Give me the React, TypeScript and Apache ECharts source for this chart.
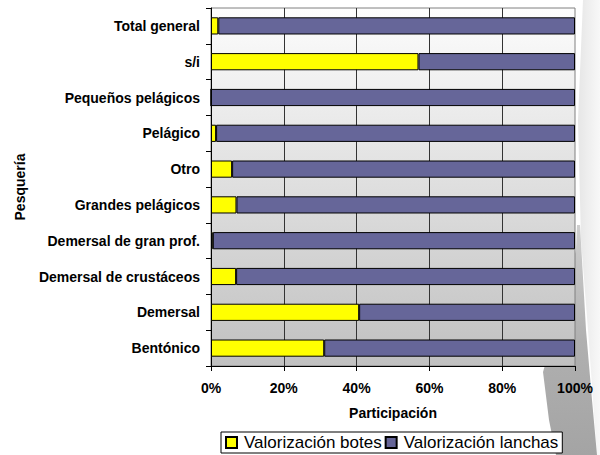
import React, { useEffect, useRef } from "react";
import * as echarts from "echarts";

const categories = [
  "Total general",
  "s/i",
  "Pequeños pelágicos",
  "Pelágico",
  "Otro",
  "Grandes pelágicos",
  "Demersal de gran prof.",
  "Demersal de crustáceos",
  "Demersal",
  "Bentónico",
];
const botes = [2.0, 57.0, 0, 1.4, 5.8, 7.0, 0.5, 6.9, 40.7, 31.1];
const lanchas = [98.0, 43.0, 100, 98.6, 94.2, 93.0, 99.5, 93.1, 59.3, 68.9];
const xTicks = [0, 20, 40, 60, 80, 100];

const FONT = "'Liberation Sans', Arial, Helvetica, sans-serif";

export default function App() {
  const ref = useRef<HTMLDivElement>(null);
  useEffect(() => {
    if (!ref.current) return;
    const chart = echarts.init(ref.current, null, { renderer: "svg" });
    chart.setOption({
      animation: false,
      backgroundColor: "#ffffff",
      textStyle: { fontFamily: FONT },
      graphic: [
        {
          type: "polygon",
          z: -10,
          shape: {
            points: [
              [583, 0],
              [600, 0],
              [600, 455],
              [597, 455],
              [588, 330],
              [581, 240],
              [578, 120],
            ],
          },
          style: {
            fill: new echarts.graphic.LinearGradient(0, 0, 1, 0, [
              { offset: 0, color: "#e6e6e6" },
              { offset: 1, color: "#f8f8f8" },
            ]),
          },
        },
        {
          type: "polygon",
          z: -9,
          shape: {
            points: [
              [577, 225],
              [580, 225],
              [586, 330],
              [592, 400],
              [597, 455],
              [556, 455],
              [549, 420],
              [543, 372],
              [558, 320],
              [576, 250],
            ],
          },
          style: {
            fill: new echarts.graphic.LinearGradient(0, 0, 0, 1, [
              { offset: 0, color: "#cfcfcf" },
              { offset: 0.5, color: "#b0b0b0" },
              { offset: 1, color: "#a4a4a4" },
            ]),
          },
        },
      ],
      grid: {
        left: 211,
        right: 25,
        top: 8,
        bottom: 89,
        show: true,
        borderColor: "#808080",
        borderWidth: 1,
        backgroundColor: new echarts.graphic.LinearGradient(0, 0, 0, 1, [
          { offset: 0, color: "#fdfdfd" },
          { offset: 1, color: "#c0c0c0" },
        ]),
      },
      legend: {
        left: 221,
        top: 432,
        orient: "horizontal",
        backgroundColor: "#ffffff",
        borderColor: "#000000",
        borderWidth: 1,
        padding: [2, 4, 2, 4],
        itemGap: 3,
        itemWidth: 11,
        itemHeight: 11,
        icon: "rect",
        textStyle: { fontSize: 17, color: "#000", fontFamily: FONT, padding: [0, 0, 0, 2] },
        data: ["Valorización botes", "Valorización lanchas"],
      },
      xAxis: {
        type: "value",
        min: xTicks[0],
        max: xTicks[xTicks.length - 1],
        interval: 20,
        name: "Participación",
        nameLocation: "middle",
        nameGap: 40,
        nameTextStyle: { fontSize: 14, fontWeight: "bold", color: "#000", fontFamily: FONT },
        axisLine: { show: true, lineStyle: { color: "#000", width: 1 } },
        axisTick: { show: true, length: 5, lineStyle: { color: "#000" } },
        axisLabel: {
          formatter: "{value}%",
          fontSize: 14,
          fontWeight: "bold",
          color: "#000",
          margin: 15,
          fontFamily: FONT,
        },
        splitLine: {
          show: true,
          showMinLine: false,
          showMaxLine: false,
          lineStyle: { color: "#333333", width: 1 },
        },
      },
      yAxis: {
        type: "category",
        data: categories,
        inverse: true,
        name: "Pesquería",
        nameLocation: "middle",
        nameGap: 184,
        nameTextStyle: { fontSize: 14, fontWeight: "bold", color: "#000", fontFamily: FONT },
        axisLine: { show: true, lineStyle: { color: "#000", width: 1 } },
        axisTick: { show: true, length: 5, lineStyle: { color: "#000" } },
        axisLabel: {
          fontSize: 14,
          fontWeight: "bold",
          color: "#000",
          margin: 11,
          fontFamily: FONT,
        },
        splitLine: { show: false },
      },
      series: [
        {
          name: "Valorización botes",
          type: "bar",
          stack: "total",
          barWidth: "48%",
          data: botes,
          itemStyle: { color: "#ffff00", borderColor: "#000", borderWidth: 1 },
        },
        {
          name: "Valorización lanchas",
          type: "bar",
          stack: "total",
          barWidth: "48%",
          data: lanchas,
          itemStyle: { color: "#666699", borderColor: "#000", borderWidth: 1 },
        },
      ],
    });
    return () => chart.dispose();
  }, []);
  return (
    <div
      ref={ref}
      style={{ position: "fixed", left: 0, top: 0, width: 600, height: 455, background: "#fff" }}
    />
  );
}
